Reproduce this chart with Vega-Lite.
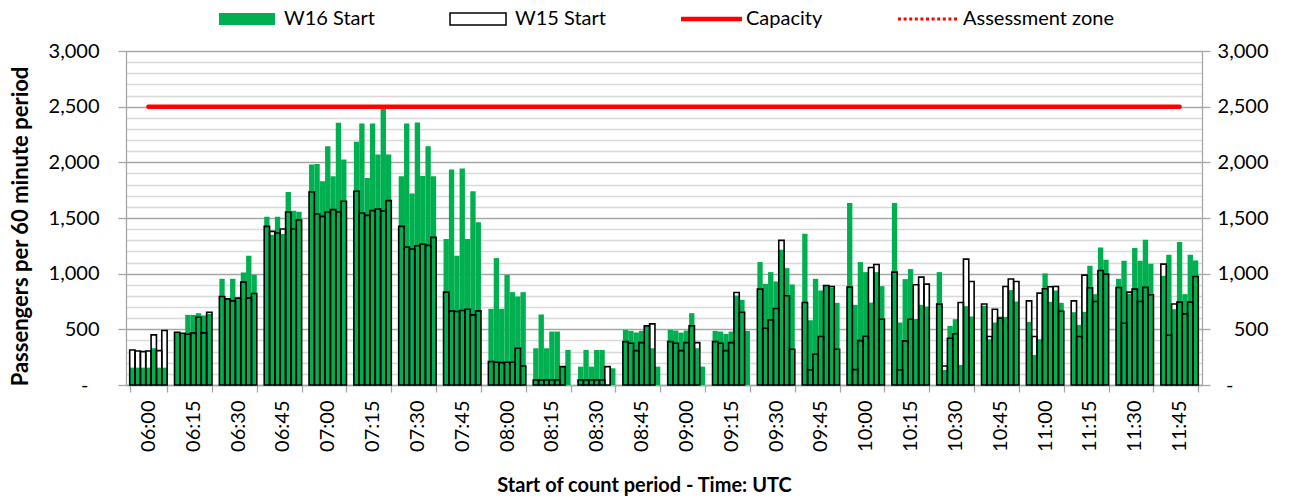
{
  "$schema": "https://vega.github.io/schema/vega-lite/v6.json",
  "width": 1076,
  "height": 334,
  "autosize": {"type": "none"},
  "padding": {"left": 126, "top": 51, "right": 88, "bottom": 118},
  "background": "white",
  "config": {
    "view": {"stroke": null},
    "font": "Lato",
    "axis": {"labelColor": "black", "titleColor": "black", "domainColor": "#A6A6A6", "tickColor": "#A6A6A6", "domainWidth": 1.3, "tickWidth": 1.3}
  },
  "datasets": {
    "bars": [
      {"t":"06:00","s":1,"a":156,"b":315},{"t":"06:00","s":2,"a":156,"b":306},{"t":"06:00","s":3,"a":156,"b":300},{"t":"06:00","s":4,"a":156,"b":306},{"t":"06:00","s":5,"a":330,"b":450},{"t":"06:00","s":6,"a":156,"b":309},{"t":"06:00","s":7,"a":156,"b":489},
      {"t":"06:15","s":1,"a":474,"b":474},{"t":"06:15","s":2,"a":462,"b":465},{"t":"06:15","s":3,"a":630,"b":456},{"t":"06:15","s":4,"a":630,"b":468},{"t":"06:15","s":5,"a":645,"b":609},{"t":"06:15","s":6,"a":625,"b":468},{"t":"06:15","s":7,"a":640,"b":654},
      {"t":"06:30","s":1,"a":954,"b":795},{"t":"06:30","s":2,"a":774,"b":774},{"t":"06:30","s":3,"a":954,"b":756},{"t":"06:30","s":4,"a":780,"b":780},{"t":"06:30","s":5,"a":1011,"b":924},{"t":"06:30","s":6,"a":1161,"b":780},{"t":"06:30","s":7,"a":990,"b":822},
      {"t":"06:45","s":1,"a":1512,"b":1425},{"t":"06:45","s":2,"a":1350,"b":1380},{"t":"06:45","s":3,"a":1512,"b":1365},{"t":"06:45","s":4,"a":1356,"b":1401},{"t":"06:45","s":5,"a":1734,"b":1554},{"t":"06:45","s":6,"a":1566,"b":1401},{"t":"06:45","s":7,"a":1557,"b":1482},
      {"t":"07:00","s":1,"a":1980,"b":1734},{"t":"07:00","s":2,"a":1986,"b":1536},{"t":"07:00","s":3,"a":1830,"b":1515},{"t":"07:00","s":4,"a":2145,"b":1554},{"t":"07:00","s":5,"a":1875,"b":1575},{"t":"07:00","s":6,"a":2355,"b":1554},{"t":"07:00","s":7,"a":2025,"b":1650},
      {"t":"07:15","s":1,"a":2184,"b":1740},{"t":"07:15","s":2,"a":2349,"b":1545},{"t":"07:15","s":3,"a":1860,"b":1524},{"t":"07:15","s":4,"a":2349,"b":1566},{"t":"07:15","s":5,"a":2070,"b":1581},{"t":"07:15","s":6,"a":2496,"b":1563},{"t":"07:15","s":7,"a":2070,"b":1656},
      {"t":"07:30","s":1,"a":1875,"b":1425},{"t":"07:30","s":2,"a":2349,"b":1239},{"t":"07:30","s":3,"a":1720,"b":1221},{"t":"07:30","s":4,"a":2358,"b":1251},{"t":"07:30","s":5,"a":1878,"b":1266},{"t":"07:30","s":6,"a":2145,"b":1254},{"t":"07:30","s":7,"a":1875,"b":1326},
      {"t":"07:45","s":1,"a":1311,"b":834},{"t":"07:45","s":2,"a":1935,"b":666},{"t":"07:45","s":3,"a":1161,"b":660},{"t":"07:45","s":4,"a":1944,"b":669},{"t":"07:45","s":5,"a":1311,"b":681},{"t":"07:45","s":6,"a":1740,"b":630},{"t":"07:45","s":7,"a":1461,"b":666},
      {"t":"08:00","s":1,"a":684,"b":210},{"t":"08:00","s":2,"a":1140,"b":204},{"t":"08:00","s":3,"a":684,"b":201},{"t":"08:00","s":4,"a":990,"b":204},{"t":"08:00","s":5,"a":834,"b":204},{"t":"08:00","s":6,"a":795,"b":330},{"t":"08:00","s":7,"a":834,"b":171},
      {"t":"08:15","s":1,"a":330,"b":45},{"t":"08:15","s":2,"a":633,"b":45},{"t":"08:15","s":3,"a":330,"b":45},{"t":"08:15","s":4,"a":480,"b":45},{"t":"08:15","s":5,"a":480,"b":45},{"t":"08:15","s":6,"a":165,"b":165},{"t":"08:15","s":7,"a":315,"b":null},
      {"t":"08:30","s":1,"a":165,"b":45},{"t":"08:30","s":2,"a":315,"b":45},{"t":"08:30","s":3,"a":165,"b":45},{"t":"08:30","s":4,"a":315,"b":45},{"t":"08:30","s":5,"a":315,"b":45},{"t":"08:30","s":6,"a":null,"b":165},{"t":"08:30","s":7,"a":150,"b":null},
      {"t":"08:45","s":1,"a":495,"b":390},{"t":"08:45","s":2,"a":486,"b":375},{"t":"08:45","s":3,"a":471,"b":309},{"t":"08:45","s":4,"a":486,"b":381},{"t":"08:45","s":5,"a":531,"b":531},{"t":"08:45","s":6,"a":330,"b":549},{"t":"08:45","s":7,"a":165,"b":null},
      {"t":"09:00","s":1,"a":495,"b":390},{"t":"09:00","s":2,"a":489,"b":375},{"t":"09:00","s":3,"a":471,"b":309},{"t":"09:00","s":4,"a":489,"b":381},{"t":"09:00","s":5,"a":645,"b":531},{"t":"09:00","s":6,"a":330,"b":381},{"t":"09:00","s":7,"a":165,"b":null},
      {"t":"09:15","s":1,"a":486,"b":390},{"t":"09:15","s":2,"a":480,"b":375},{"t":"09:15","s":3,"a":459,"b":309},{"t":"09:15","s":4,"a":480,"b":381},{"t":"09:15","s":5,"a":804,"b":831},{"t":"09:15","s":6,"a":765,"b":654},{"t":"09:15","s":7,"a":486,"b":null},
      {"t":"09:30","s":1,"a":1104,"b":861},{"t":"09:30","s":2,"a":909,"b":510},{"t":"09:30","s":3,"a":1014,"b":585},{"t":"09:30","s":4,"a":930,"b":687},{"t":"09:30","s":5,"a":1215,"b":1299},{"t":"09:30","s":6,"a":1050,"b":801},{"t":"09:30","s":7,"a":903,"b":321},
      {"t":"09:45","s":1,"a":1359,"b":741},{"t":"09:45","s":2,"a":582,"b":135},{"t":"09:45","s":3,"a":954,"b":276},{"t":"09:45","s":4,"a":849,"b":435},{"t":"09:45","s":5,"a":890,"b":894},{"t":"09:45","s":6,"a":875,"b":885},{"t":"09:45","s":7,"a":738,"b":321},
      {"t":"10:00","s":1,"a":1635,"b":879},{"t":"10:00","s":2,"a":720,"b":138},{"t":"10:00","s":3,"a":1104,"b":399},{"t":"10:00","s":4,"a":1014,"b":438},{"t":"10:00","s":5,"a":740,"b":1056},{"t":"10:00","s":6,"a":1014,"b":1083},{"t":"10:00","s":7,"a":888,"b":591},
      {"t":"10:15","s":1,"a":1635,"b":1014},{"t":"10:15","s":2,"a":561,"b":135},{"t":"10:15","s":3,"a":951,"b":396},{"t":"10:15","s":4,"a":1041,"b":591},{"t":"10:15","s":5,"a":594,"b":900},{"t":"10:15","s":6,"a":720,"b":969},{"t":"10:15","s":7,"a":705,"b":906},
      {"t":"10:30","s":1,"a":1014,"b":726},{"t":"10:30","s":2,"a":135,"b":171},{"t":"10:30","s":3,"a":531,"b":420},{"t":"10:30","s":4,"a":591,"b":460},{"t":"10:30","s":5,"a":180,"b":741},{"t":"10:30","s":6,"a":708,"b":1131},{"t":"10:30","s":7,"a":615,"b":930},
      {"t":"10:45","s":1,"a":712,"b":727},{"t":"10:45","s":2,"a":411,"b":435},{"t":"10:45","s":3,"a":561,"b":681},{"t":"10:45","s":4,"a":615,"b":600},{"t":"10:45","s":5,"a":612,"b":885},{"t":"10:45","s":6,"a":852,"b":952},{"t":"10:45","s":7,"a":750,"b":930},
      {"t":"11:00","s":1,"a":567,"b":756},{"t":"11:00","s":2,"a":270,"b":435},{"t":"11:00","s":3,"a":411,"b":825},{"t":"11:00","s":4,"a":1002,"b":865},{"t":"11:00","s":5,"a":747,"b":883},{"t":"11:00","s":6,"a":849,"b":885},{"t":"11:00","s":7,"a":738,"b":663},
      {"t":"11:15","s":1,"a":654,"b":756},{"t":"11:15","s":2,"a":540,"b":435},{"t":"11:15","s":3,"a":657,"b":987},{"t":"11:15","s":4,"a":1071,"b":873},{"t":"11:15","s":5,"a":816,"b":750},{"t":"11:15","s":6,"a":1236,"b":1029},{"t":"11:15","s":7,"a":1125,"b":996},
      {"t":"11:30","s":1,"a":954,"b":876},{"t":"11:30","s":2,"a":1116,"b":555},{"t":"11:30","s":3,"a":820,"b":834},{"t":"11:30","s":4,"a":1230,"b":861},{"t":"11:30","s":5,"a":1116,"b":750},{"t":"11:30","s":6,"a":1305,"b":877},{"t":"11:30","s":7,"a":1089,"b":810},
      {"t":"11:45","s":1,"a":981,"b":1086},{"t":"11:45","s":2,"a":1170,"b":447},{"t":"11:45","s":3,"a":681,"b":727},{"t":"11:45","s":4,"a":1284,"b":744},{"t":"11:45","s":5,"a":816,"b":639},{"t":"11:45","s":6,"a":1170,"b":744},{"t":"11:45","s":7,"a":1119,"b":975}
    ],
    "cap": [
      {"t":"06:00","v":2500,"series":"Capacity"},
      {"t":"11:45","v":2500,"series":"Capacity"}
    ]
  },
  "encoding": {
    "x": {
      "field": "t",
      "type": "nominal",
      "scale": {
        "domain": ["06:00","06:15","06:30","06:45","07:00","07:15","07:30","07:45","08:00","08:15","08:30","08:45","09:00","09:15","09:30","09:45","10:00","10:15","10:30","10:45","11:00","11:15","11:30","11:45"],
        "paddingInner": 0.165,
        "paddingOuter": 0.0825
      },
      "axis": {
        "title": "Start of count period - Time: UTC",
        "labelAngle": -90,
        "labelFontSize": 20,
        "labelPadding": 8,
        "tickSize": 7,
        "tickBand": "extent",
        "titleFontSize": 20,
        "titleFontWeight": "bold",
        "titlePadding": 24,
        "titleX": 518
      }
    }
  },
  "layer": [
    {
      "data": {"name": "bars"},
      "mark": {"type": "bar", "fill": "#FFFFFF", "strokeWidth": 0},
      "encoding": {
        "xOffset": {"field": "s", "type": "nominal", "scale": {"paddingInner": 0, "paddingOuter": 0}},
        "y": {
          "field": "b",
          "type": "quantitative",
          "scale": {"domain": [0, 3000], "nice": false},
          "axis": {
            "orient": "left",
            "title": "Passengers per 60 minute period",
            "titleFontSize": 22,
            "titleFontWeight": "bold",
            "titleX": -94,
            "titleY": 175,
            "values": [0,100,200,300,400,500,600,700,800,900,1000,1100,1200,1300,1400,1500,1600,1700,1800,1900,2000,2100,2200,2300,2400,2500,2600,2700,2800,2900,3000],
            "grid": true,
            "gridWidth": 1.4,
            "gridColor": {"condition": {"test": "datum.value % 500 === 0", "value": "#A6A6A6"}, "value": "#D9D9D9"},
            "tickColor": {"condition": {"test": "datum.value % 500 === 0", "value": "#A6A6A6"}, "value": "transparent"},
            "tickSize": 8,
            "labelFontSize": 20,
            "labelPadding": {"condition": {"test": "datum.value === 0", "value": 30}, "value": 19},
            "labelOverlap": false,
            "labelExpr": "datum.value % 500 !== 0 ? '' : (datum.value === 0 ? '-' : format(datum.value, ','))"
          }
        }
      }
    },
    {
      "data": {"name": "bars"},
      "mark": {"type": "bar", "fill": "#00B050", "strokeWidth": 0},
      "encoding": {
        "xOffset": {"field": "s", "type": "nominal"},
        "y": {"field": "a", "type": "quantitative", "axis": null}
      }
    },
    {
      "data": {"name": "bars"},
      "mark": {"type": "bar", "fill": "transparent", "stroke": "#000000", "strokeWidth": 1.6},
      "encoding": {
        "xOffset": {"field": "s", "type": "nominal"},
        "y": {"field": "b", "type": "quantitative", "axis": null}
      }
    },
    {
      "data": {"name": "cap"},
      "mark": {"type": "line", "strokeWidth": 4.5, "strokeCap": "round"},
      "encoding": {
        "y": {
          "field": "v",
          "type": "quantitative",
          "axis": {
            "orient": "right",
            "title": null,
            "values": [0,500,1000,1500,2000,2500,3000],
            "grid": false,
            "tickSize": 8,
            "labelFontSize": 20,
            "labelAlign": "right",
            "labelPadding": {"condition": {"test": "datum.value === 0", "value": 23}, "value": 58},
            "labelExpr": "datum.value === 0 ? '-' : format(datum.value, ',')"
          }
        },
        "color": {
          "field": "series",
          "type": "nominal",
          "scale": {"domain": ["W16 Start", "W15 Start", "Capacity", "Assessment zone"], "range": ["#00B050", "#000000", "#FF0000", "#FF0000"]},
          "legend": {
            "orient": "none",
            "legendX": 84,
            "legendY": -42,
            "direction": "horizontal",
            "title": null,
            "padding": 0,
            "symbolSize": 4,
            "labelFontSize": 20,
            "labelColor": "black",
            "labelOffset": 54,
            "columnPadding": 66,
            "encode": {
              "symbols": {
                "update": {
                  "shape": {"signal": "datum.value === 'W16 Start' || datum.value === 'W15 Start' ? 'M-1,-6H55V6H-1Z' : 'M-1,0H60'"},
                  "fill": {"signal": "datum.value === 'W16 Start' ? '#00B050' : (datum.value === 'W15 Start' ? '#FFFFFF' : 'transparent')"},
                  "stroke": {"signal": "datum.value === 'W15 Start' ? '#000000' : (datum.value === 'W16 Start' ? '#00B050' : '#FF0000')"},
                  "strokeWidth": {"signal": "datum.value === 'W15 Start' ? 1.5 : (datum.value === 'Capacity' ? 4.5 : (datum.value === 'W16 Start' ? 0 : 3))"},
                  "strokeDash": {"signal": "datum.value === 'Assessment zone' ? [3, 2.6] : []"},
                  "opacity": {"value": 1}
                }
              }
            }
          }
        }
      }
    }
  ],
  "resolve": {"axis": {"y": "independent"}}
}
